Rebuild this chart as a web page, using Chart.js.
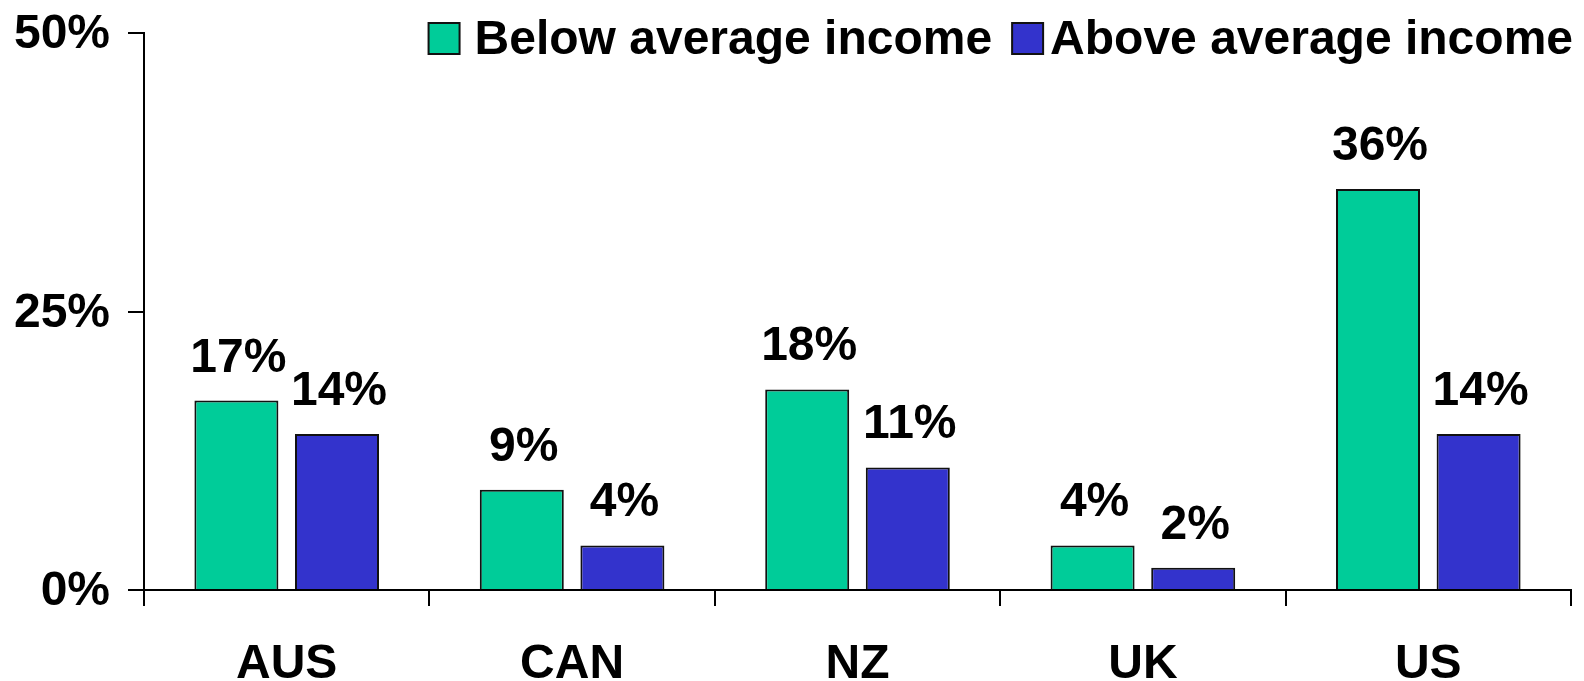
<!DOCTYPE html>
<html>
<head>
<meta charset="utf-8">
<script src="https://cdn.jsdelivr.net/npm/chart.js@4/dist/chart.umd.min.js"></script>
<style>
html,body{margin:0;padding:0;background:#fff;}
#wrap{position:relative;width:1584px;height:681px;}
</style>
</head>
<body>
<div id="wrap"><canvas id="c"></canvas></div>
<script>
const categories = ["AUS", "CAN", "NZ", "UK", "US"];
const belowAverage = [17, 9, 18, 4, 36];
const aboveAverage = [14, 4, 11, 2, 14];
const seriesNames = ["Below average income", "Above average income"];
const yTicks = [0, 25, 50];

const FONT = "'Liberation Sans', Arial, sans-serif";
const FS = 48;

const dataLabels = {
  id: 'dataLabels',
  afterDatasetsDraw(chart) {
    const ctx = chart.ctx;
    ctx.save();
    ctx.font = "bold " + FS + "px " + FONT;
    ctx.fillStyle = '#000';
    ctx.textAlign = 'center';
    ctx.textBaseline = 'alphabetic';
    chart.data.datasets.forEach((ds, i) => {
      const meta = chart.getDatasetMeta(i);
      meta.data.forEach((bar, j) => {
        ctx.fillText(ds.data[j] + '%', bar.x + 2, bar.y - 29);
      });
    });
    ctx.restore();
  }
};

const customLegend = {
  id: 'customLegend',
  afterDraw(chart) {
    const ctx = chart.ctx;
    ctx.save();
    ctx.font = "bold " + FS + "px " + FONT;
    ctx.textBaseline = 'alphabetic';
    ctx.textAlign = 'left';
    const box = 31, gapText = [15, 7], gapItem = 20;
    const baseline = 54;
    let right = chart.chartArea.right + 2;
    const items = chart.data.datasets.map(d => ({label: d.label, color: d.backgroundColor}));
    for (let i = items.length - 1; i >= 0; i--) {
      const w = ctx.measureText(items[i].label).width;
      const tx = right - w;
      ctx.fillStyle = '#000';
      ctx.fillText(items[i].label, tx, baseline);
      const bx = tx - gapText[i] - box;
      ctx.fillStyle = items[i].color;
      ctx.fillRect(bx, 23, box, box);
      ctx.lineWidth = 2;
      ctx.strokeStyle = '#111';
      ctx.strokeRect(bx, 23, box, box);
      right = bx - gapItem;
    }
    ctx.restore();
  }
};

new Chart(document.getElementById('c'), {
  type: 'bar',
  data: {
    labels: categories,
    datasets: [
      { label: seriesNames[0], data: belowAverage, backgroundColor: '#00CC99', borderColor: '#111', borderWidth: 2,
        categoryPercentage: 0.705, barPercentage: 0.835 },
      { label: seriesNames[1], data: aboveAverage, backgroundColor: '#3333CC', borderColor: '#111', borderWidth: 2,
        categoryPercentage: 0.705, barPercentage: 0.835 }
    ]
  },
  options: {
    responsive: true,
    maintainAspectRatio: false,
    animation: false,
    layout: { padding: { top: 33, right: 13, left: 0, bottom: 0 } },
    plugins: { legend: { display: false }, tooltip: { enabled: false } },
    scales: {
      x: {
        grid: { display: true, drawOnChartArea: false, drawTicks: true, tickLength: 16, color: '#000', lineWidth: 2, offset: true },
        border: { display: true, color: '#000', width: 2 },
        ticks: { color: '#000', font: { family: FONT, size: FS, weight: 'bold' }, padding: 30, maxRotation: 0 },
        afterFit(scale) { scale.height = 91; scale.paddingLeft = 0; scale.paddingRight = 0; }
      },
      y: {
        min: 0, max: 50,
        afterBuildTicks(scale) { scale.ticks = yTicks.map(v => ({ value: v })); },
        grid: { display: true, drawOnChartArea: false, drawTicks: true, tickLength: 16, color: '#000', lineWidth: 2 },
        border: { display: true, color: '#000', width: 2 },
        ticks: { color: '#000', font: { family: FONT, size: FS, weight: 'bold' }, padding: 18, labelOffset: 2,
                 callback: v => v + '%' },
        afterFit(scale) { scale.width = 144; scale.paddingTop = 0; scale.paddingBottom = 0; }
      }
    }
  },
  plugins: [dataLabels, customLegend]
});
</script>
</body>
</html>
